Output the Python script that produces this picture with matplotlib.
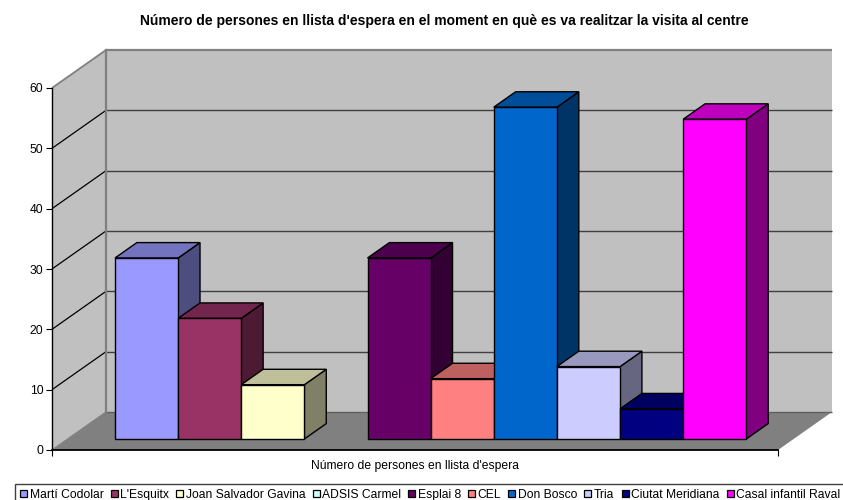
import matplotlib
matplotlib.use("Agg")
import matplotlib.pyplot as plt
from matplotlib.patches import Patch, Rectangle

plt.rcParams['font.family'] = ['Liberation Sans', 'DejaVu Sans']

title = "Número de persones en llista d'espera en el moment en què es va realitzar la visita al centre"
axis_label = "Número de persones en llista d'espera"
centres = ["Martí Codolar", "L'Esquitx", "Joan Salvador Gavina", "ADSIS Carmel", "Esplai 8",
           "CEL", "Don Bosco", "Tria", "Ciutat Meridiana", "Casal infantil Raval"]
values = [30, 20, 9, 0, 30, 10, 55, 12, 5, 53]
colors = ["#9999FF", "#993366", "#FFFFCC", "#CCFFFF", "#660066",
          "#FF8080", "#0066CC", "#CCCCFF", "#000080", "#FF00FF"]
yticks = [0, 10, 20, 30, 40, 50, 60]

W, H = 843, 500
fig = plt.figure(figsize=(W / 100, H / 100), dpi=100, facecolor='white')
L, R, B, T = 52, 778, 450, 88
ax = fig.add_axes([L / W, 1 - B / H, (R - L) / W, (B - T) / H], facecolor='none')

XMIN, XMAX, YMAX = -0.75, 10.75, 60
DX = 54 / ((R - L) / (XMAX - XMIN))   # oblique depth, in data units
DY = 38 / ((B - T) / YMAX)
D0, D1 = 0.29, 0.695                  # depth range of the bars


def p(x, y, d=0.0):
    return x + d * DX, y + d * DY


def poly(pts, **kw):
    xs, ys = zip(*pts)
    ax.fill(xs, ys, clip_on=False, **kw)


def shade(c, f):
    r, g, b = matplotlib.colors.to_rgb(c)
    return (r * f, g * f, b * f)


# walls and floor
poly([p(XMIN, 0), p(XMIN, YMAX), p(XMIN, YMAX, 1), p(XMIN, 0, 1)], fc='#C0C0C0', ec='none', zorder=1)
poly([p(XMIN, 0, 1), p(XMIN, YMAX, 1), p(XMAX, YMAX, 1), p(XMAX, 0, 1)], fc='#C0C0C0', ec='none', zorder=1)
poly([p(XMIN, 0), p(XMAX, 0), p(XMAX, 0, 1), p(XMIN, 0, 1)], fc='#808080', ec='none', zorder=1)

# gridlines
for t in yticks:
    x0, y0 = p(XMIN, t)
    x1, y1 = p(XMIN, t, 1)
    x2, y2 = p(XMAX, t, 1)
    top = t == YMAX
    floor = t == 0
    ax.plot([x0, x1], [y0, y1], color='#808080' if top or floor else 'black', lw=0.9 if not top else 1.3,
            clip_on=False, zorder=2, solid_capstyle='butt')
    ax.plot([x1, x2], [y1, y2], color='#808080' if top else ('#606060' if floor else '#404040'),
            lw=1.6 if top else 1.0, clip_on=False, zorder=2, solid_capstyle='butt')
x1, y1 = p(XMIN, 0, 1)
x2, y2 = p(XMIN, YMAX, 1)
ax.plot([x1, x2], [y1, y2], color='#808080', lw=1.6, clip_on=False, zorder=2)

# bars
edge = dict(ec='black', lw=1.0, joinstyle='miter')
for i, (v, c) in enumerate(zip(values, colors)):
    if v == 0:
        continue
    z = 3 + i
    poly([p(i + 1, 0, D0), p(i + 1, 0, D1), p(i + 1, v, D1), p(i + 1, v, D0)],
         fc=shade(c, 0.5), zorder=z, **edge)
    poly([p(i, v, D0), p(i + 1, v, D0), p(i + 1, v, D1), p(i, v, D1)],
         fc=shade(c, 0.75), zorder=z, **edge)
    bx, by = p(i, 0, D0)
    ax.bar(bx, v, width=1, bottom=by, align='edge', color=c, edgecolor='black', linewidth=1.0,
           zorder=z, clip_on=False)

ax.set_xlim(XMIN, XMAX)
ax.set_ylim(0, YMAX)
ax.set_yticks(yticks)
ax.set_xticks([XMIN, XMAX])
ax.set_xticklabels(['', ''])
ax.set_xticks([(XMIN + XMAX) / 2], labels=[axis_label], minor=True)
ax.tick_params(axis='x', which='minor', length=0, labelsize=8.7, pad=7.5)
ax.tick_params(axis='x', which='major', length=4.3, width=0.8, color='black')
ax.tick_params(axis='y', length=4.3, width=0.8, labelsize=8.7, pad=2)
for s in ('top', 'right'):
    ax.spines[s].set_visible(False)
ax.spines['left'].set_linewidth(1.0)
ax.spines['bottom'].set_linewidth(1.3)
for s in ('left', 'bottom'):
    ax.spines[s].set_zorder(20)

fig.text(444 / W, 1 - 20.5 / H, title, ha='center', va='center', fontsize=10, fontweight='bold')

# legend with frame running off the canvas
fig.add_artist(Rectangle((15 / W, -0.02), 0.99, (H - 484) / H + 0.02, transform=fig.transFigure,
                         fc='white', ec='#404040', lw=1.0, zorder=0.5))
handles = [Patch(fc=c, ec='black', lw=0.9) for c in colors]
leg = fig.legend(handles, centres, ncol=10, loc='lower left', bbox_to_anchor=(20 / W, -0.6 / H),
                 frameon=False, fontsize=8.7, handlelength=0.58, handleheight=0.6, handletextpad=0.22,
                 columnspacing=0.58, borderpad=0, borderaxespad=0, labelspacing=0)
leg.set_zorder(5)

fig.savefig('out.png', dpi=100, facecolor='white')
